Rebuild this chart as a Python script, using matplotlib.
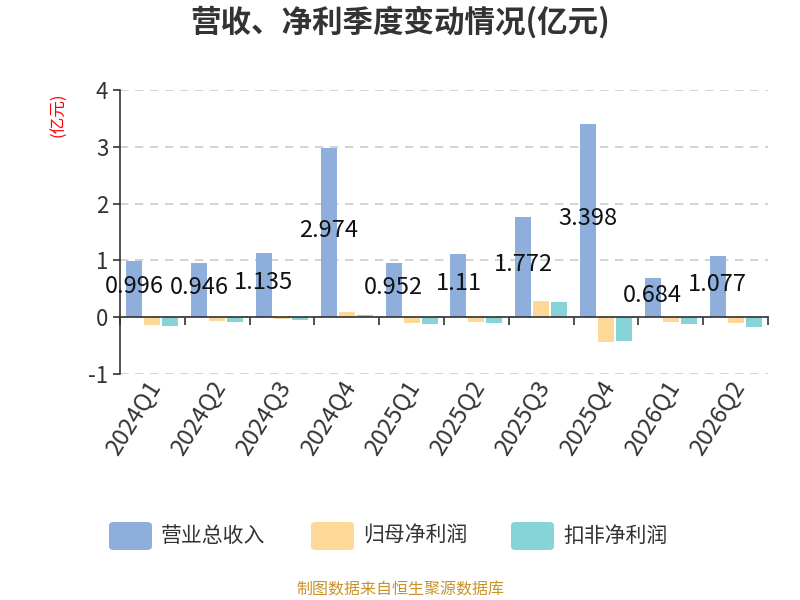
import matplotlib.pyplot as plt
import matplotlib.transforms as mtransforms
from matplotlib.patches import FancyBboxPatch
import numpy as np

plt.rcParams['font.family'] = ['Noto Sans CJK SC', 'DejaVu Sans']

quarters = ["2024Q1", "2024Q2", "2024Q3", "2024Q4", "2025Q1",
            "2025Q2", "2025Q3", "2025Q4", "2026Q1", "2026Q2"]
revenue = [0.996, 0.946, 1.135, 2.974, 0.952, 1.11, 1.772, 3.398, 0.684, 1.077]
net_profit = [-0.146, -0.07, -0.035, 0.088, -0.10, -0.08, 0.28, -0.445, -0.077, -0.10]
deducted_profit = [-0.158, -0.09, -0.047, 0.047, -0.117, -0.094, 0.27, -0.42, -0.12, -0.17]
series_names = ["营业总收入", "归母净利润", "扣非净利润"]
colors = ["#8eaedb", "#fdd897", "#86d4d7"]

fig = plt.figure(figsize=(8, 6), dpi=100)
ax = fig.add_axes([0.15, 0.3767, 0.81, 0.4733])

x = np.arange(len(quarters))
w = 0.247
step = 0.278
for k, vals in enumerate([revenue, net_profit, deducted_profit]):
    ax.bar(x + (k - 1) * step, vals, width=w, color=colors[k], zorder=3)

for xi, v in zip(x, revenue):
    ax.text(xi - step, v / 2 + 0.045, f"{v:g}", ha="center", va="center",
            fontsize=17, color="#111111", zorder=5)

ax.set_xlim(-0.5, len(quarters) - 0.5)
ax.set_ylim(-1, 4)
ax.set_yticks([-1, 0, 1, 2, 3, 4])
ax.set_yticklabels(["-1", "0", "1", "2", "3", "4"])
ax.tick_params(axis="y", labelsize=16, colors="#333333", length=5, width=1.2)
ax.yaxis.grid(True, linestyle=(0, (5, 4)), color="#cccccc", linewidth=1.2, zorder=0)

ax.spines["top"].set_visible(False)
ax.spines["right"].set_visible(False)
ax.spines["left"].set_color("#333333")
ax.spines["left"].set_linewidth(1.2)
ax.spines["bottom"].set_position(("data", 0))
ax.spines["bottom"].set_color("#333333")
ax.spines["bottom"].set_linewidth(1.2)
ax.spines["bottom"].set_zorder(4)

ax.set_xticks(np.arange(-0.5, len(quarters), 1.0))
ax.set_xticklabels([])
ax.tick_params(axis="x", length=6, width=1.2, colors="#333333", direction="out")

trans = mtransforms.blended_transform_factory(ax.transData, ax.transAxes)
for xi, q in zip(x, quarters):
    ax.text(xi + 0.05, -0.03, q, transform=trans, rotation=58,
            rotation_mode="anchor", ha="right", va="center",
            fontsize=17, color="#333333")

fig.text(0.5, 0.962, "营收、净利季度变动情况(亿元)", ha="center", va="center",
         fontsize=22, fontweight="bold", color="#333333")
fig.text(0.074, 0.808, "(亿元)", rotation=90, ha="center", va="center",
         fontsize=12, color="red")

# legend
legend_y = 1 - 536 / 600
items_x = [109, 311, 511]
for px, name, c in zip(items_x, series_names, colors):
    patch = FancyBboxPatch((px / 800, legend_y - 14 / 600), 43 / 800, 28 / 600,
                           boxstyle="round,pad=0,rounding_size=0.006",
                           transform=fig.transFigure, facecolor=c,
                           edgecolor="none")
    fig.patches.append(patch)
    fig.text((px + 52) / 800, legend_y, name, ha="left", va="center",
             fontsize=15, color="#333333")

fig.text(0.5, 1 - 590 / 600, "制图数据来自恒生聚源数据库", ha="center",
         va="center", fontsize=11.5, color="#c8922a")

fig.savefig("out.png", dpi=100)
